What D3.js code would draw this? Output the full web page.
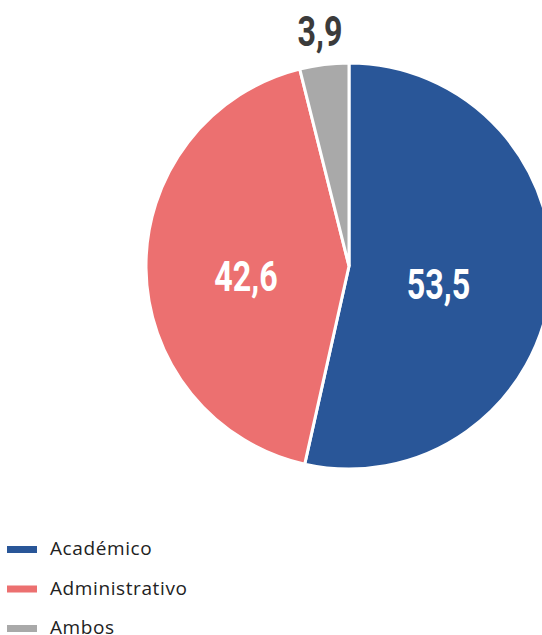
<!DOCTYPE html>
<html>
<head>
<meta charset="utf-8">
<script src="https://cdn.jsdelivr.net/npm/d3@7"></script>
<style>
  body { margin: 0; background: #fff; }
  svg { display: block; }
</style>
</head>
<body>
<svg id="chart"></svg>
<script>
// data
var categories = ["Académico", "Administrativo", "Ambos"];
var values = [53.5, 42.6, 3.9];
var labels = ["53,5", "42,6", "3,9"];
var colors = ["#295698", "#ec7070", "#a9a9a9"];

var width = 542, height = 635;
var cx = 349, cy = 266, radius = 203;

var svg = d3.select("#chart")
    .attr("width", width)
    .attr("height", height);

var g = svg.append("g")
    .attr("transform", "translate(" + cx + "," + cy + ")");

var pie = d3.pie().sort(null).value(function(d) { return d; });
var arcs = pie(values);

var arc = d3.arc().innerRadius(0).outerRadius(radius);
var labelArc = d3.arc().innerRadius(0).outerRadius(192);
var outerArc = d3.arc().innerRadius(237).outerRadius(237);

g.selectAll("path")
    .data(arcs)
  .enter().append("path")
    .attr("d", arc)
    .attr("fill", function(d, i) { return colors[i]; })
    .attr("stroke", "#fff")
    .attr("stroke-width", 3)
    .attr("stroke-linejoin", "miter");

// labels: big ones inside, small one outside the pie
// the font is squeezed sideways to look like a condensed face
g.selectAll("text.val")
    .data(arcs)
  .enter().append("text")
    .attr("class", "val")
    .attr("transform", function(d, i) {
      var p = i < 2 ? labelArc.centroid(d) : outerArc.centroid(d);
      if (i == 0) p = [p[0] - 6, p[1] + 7];
      if (i == 1) p = [p[0] - 7, p[1] + 8];
      return "translate(" + p + ") scale(0.75,1)";
    })
    .attr("text-anchor", "middle")
    .attr("dy", "0.36em")
    .attr("font-family", "Roboto, sans-serif")
    .attr("font-weight", "bold")
    .attr("font-size", "43px")
    .attr("fill", function(d, i) { return i < 2 ? "#fff" : "#3b3b3b"; })
    .text(function(d, i) { return labels[i]; });

// legend
var legend = svg.append("g")
    .attr("transform", "translate(7,546)");

var item = legend.selectAll("g")
    .data(categories)
  .enter().append("g")
    .attr("transform", function(d, i) { return "translate(0," + (i * 39.5) + ")"; });

item.append("rect")
    .attr("width", 30)
    .attr("height", 7)
    .attr("fill", function(d, i) { return colors[i]; });

item.append("text")
    .attr("x", 43)
    .attr("y", 9)
    .attr("font-family", "'Open Sans', sans-serif")
    .attr("font-size", "19px")
    .attr("letter-spacing", "0.6px")
    .attr("fill", "#222")
    .text(function(d) { return d; });
</script>
</body>
</html>
